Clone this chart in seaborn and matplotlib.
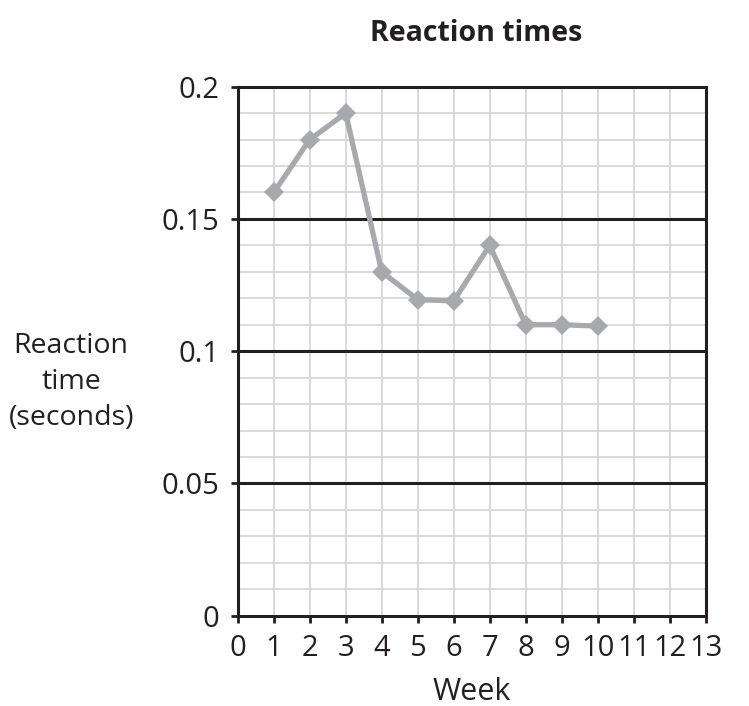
import matplotlib
matplotlib.use("Agg")
import matplotlib.pyplot as plt
import seaborn as sns
import pandas as pd
import numpy as np

weeks = [1, 2, 3, 4, 5, 6, 7, 8, 9, 10]
reaction = [0.16, 0.18, 0.19, 0.13, 0.1195, 0.119, 0.14, 0.11, 0.11, 0.1095]
x_ticks = list(range(0, 14))
y_ticks = [0, 0.05, 0.1, 0.15, 0.2]
y_tick_labels = ["0", "0.05", "0.1", "0.15", "0.2"]

sns.set_theme(style="white")
plt.rcParams['font.family'] = ['Open Sans', 'DejaVu Sans']

df = pd.DataFrame({"Week": weeks, "Reaction": reaction})

fig = plt.figure(figsize=(7.49, 7.06), dpi=100)
ax = fig.add_axes([0.3174, 0.1279, 0.6248, 0.7493])

ax.set_xlim(0, 13)
ax.set_ylim(0, 0.2)

for v in np.arange(1, 13):
    ax.axvline(v, color="#d4d4d4", lw=1.2, zorder=1)
for v in np.arange(0.01, 0.2, 0.01):
    ax.axhline(v, color="#d4d4d4", lw=1.2, zorder=1)
for v in [0.05, 0.1, 0.15]:
    ax.axhline(v, color="#231f20", lw=2.2, zorder=2)

sns.lineplot(data=df, x="Week", y="Reaction", ax=ax, color="#a7a9ac",
             lw=3.8, marker="D", markersize=10, markeredgewidth=0, zorder=5)

ax.set_xticks(x_ticks)
ax.set_xticklabels([str(t) for t in x_ticks], fontsize=21)
ax.set_yticks(y_ticks)
ax.set_yticklabels(y_tick_labels, fontsize=21)
ax.tick_params(axis="both", direction="out", length=5, width=2, color="#231f20",
               labelcolor="#231f20")
ax.tick_params(axis="x", bottom=True, pad=8)
ax.tick_params(axis="y", left=True, pad=8)

for s in ax.spines.values():
    s.set_color("#231f20")
    s.set_linewidth(2.2)
    s.set_visible(True)

ax.set_xlabel("Week", fontsize=22, color="#231f20", labelpad=10)
ax.set_ylabel("")
fig.text(0.095, 0.459, "Reaction\ntime\n(seconds)", ha="center", va="center",
         fontsize=20.5, color="#231f20", linespacing=1.39)
fig.text(0.636, 0.953, "Reaction times", ha="center", va="center",
         fontsize=20.5, fontweight="bold", color="#231f20")

fig.savefig("out.png", dpi=100)
